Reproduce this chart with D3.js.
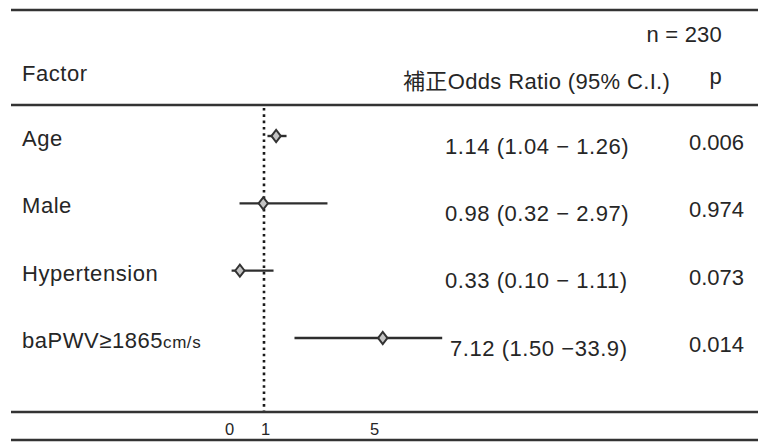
<!DOCTYPE html>
<html>
<head>
<meta charset="utf-8">
<script src="https://cdn.jsdelivr.net/npm/d3@7"></script>
<style>
  html, body { margin: 0; padding: 0; background: #fff; }
  svg text { font-family: "Liberation Sans", Arial, "Noto Sans CJK JP", sans-serif; fill: #262626; }
</style>
</head>
<body>
<svg id="chart" width="758" height="442"></svg>
<script>
// ---- data ----
const factors = ["Age", "Male", "Hypertension", "baPWV≥1865"];
const factorUnits = ["", "", "", "cm/s"];
const oddsRatio = [1.14, 0.98, 0.33, 7.12];
const ciLow = [1.04, 0.32, 0.10, 1.50];
const ciHigh = [1.26, 2.97, 1.11, 33.9];
const ciLabels = ["1.14 (1.04 − 1.26)", "0.98 (0.32 − 2.97)", "0.33 (0.10 − 1.11)", "7.12 (1.50 −33.9)"];
const pValues = ["0.006", "0.974", "0.073", "0.014"];
const tickValues = [0, 1, 5];
const sampleLabel = "n = 230";
const headerFactor = "Factor";
const headerOR = "補正Odds Ratio (95% C.I.)";
const headerP = "p";
const refValue = 1;

// ---- layout ----
const svg = d3.select("#chart");
const W = 758, H = 442;
const left = 11;
const rules = [10, 105, 412, 440];
const FS = 22, LS = 0.55;

// piecewise x scale (the figure's axis is not uniform)
const x = d3.scaleLinear()
  .domain([0, 1, 1.3, 5, 10, 40])
  .range([228, 264, 290, 373, 396, 454]);

const y = d3.scalePoint().domain(factors).range([136, 338]);

// horizontal rules
svg.selectAll("line.rule").data(rules).join("line")
  .attr("class", "rule")
  .attr("x1", left).attr("x2", W)
  .attr("y1", d => d).attr("y2", d => d)
  .attr("stroke", "#333").attr("stroke-width", 2.6);

// header texts
function txt(t, xx, yy, anchor, ls) {
  return svg.append("text").attr("x", xx).attr("y", yy)
    .attr("font-size", FS).attr("letter-spacing", ls === undefined ? LS : ls)
    .attr("text-anchor", anchor || "start").text(t);
}
txt(headerFactor, 22, 81);
txt(sampleLabel, 722, 42, "end", 0.2);
txt(headerOR, 403, 89, "start", 0.35);
txt(headerP, 716, 84, "middle");

// reference dotted line
svg.append("line")
  .attr("x1", x(refValue)).attr("x2", x(refValue))
  .attr("y1", 108).attr("y2", 411)
  .attr("stroke", "#1a1a1a").attr("stroke-width", 2.6)
  .attr("stroke-dasharray", "2.6,3.7");

// axis tick labels
const axis = d3.axisBottom(x).tickValues(tickValues).tickSize(0).tickPadding(0).tickFormat(d3.format("d"));
const gAxis = svg.append("g").attr("transform", "translate(1,423)").call(axis);
gAxis.select(".domain").remove();
gAxis.selectAll("text")
  .attr("font-size", 16.5)
  .attr("font-family", "\"Liberation Sans\", Arial, sans-serif")
  .attr("fill", "#262626");

// rows
const rows = factors.map((f, i) => ({
  f, unit: factorUnits[i], or: oddsRatio[i], lo: ciLow[i], hi: ciHigh[i],
  lab: ciLabels[i], p: pValues[i]
}));

// factor labels
const lab = svg.selectAll("text.factor").data(rows).join("text")
  .attr("class", "factor")
  .attr("x", 22)
  .attr("y", d => y(d.f) + 10)
  .attr("font-size", FS)
  .attr("letter-spacing", LS);
lab.append("tspan").text(d => d.f);
lab.append("tspan").attr("font-size", 17).text(d => d.unit);

// CI lines
svg.selectAll("line.ci").data(rows).join("line")
  .attr("class", "ci")
  .attr("x1", d => x(d.lo)).attr("x2", d => x(d.hi))
  .attr("y1", d => y(d.f)).attr("y2", d => y(d.f))
  .attr("stroke", "#2e2e2e").attr("stroke-width", 2.4);

// diamonds
const diamond = d3.symbol().type(d3.symbolDiamond).size(42);
svg.selectAll("path.pt").data(rows).join("path")
  .attr("class", "pt")
  .attr("d", diamond)
  .attr("transform", d => `translate(${x(d.or)},${y(d.f)}) scale(1.35,1)`)
  .attr("fill", "#c4c4c4").attr("stroke", "#333").attr("stroke-width", 1.6);

// OR texts
svg.selectAll("text.orlab").data(rows).join("text")
  .attr("class", "orlab")
  .attr("x", (d, i) => i === 3 ? 450 : 445)
  .attr("y", d => y(d.f) + 17.5)
  .attr("font-size", FS)
  .attr("letter-spacing", LS)
  .text(d => d.lab);

// p values
svg.selectAll("text.pval").data(rows).join("text")
  .attr("class", "pval")
  .attr("x", 744)
  .attr("y", d => y(d.f) + 14)
  .attr("font-size", FS)
  .attr("letter-spacing", 0)
  .attr("text-anchor", "end")
  .text(d => d.p);
</script>
</body>
</html>
